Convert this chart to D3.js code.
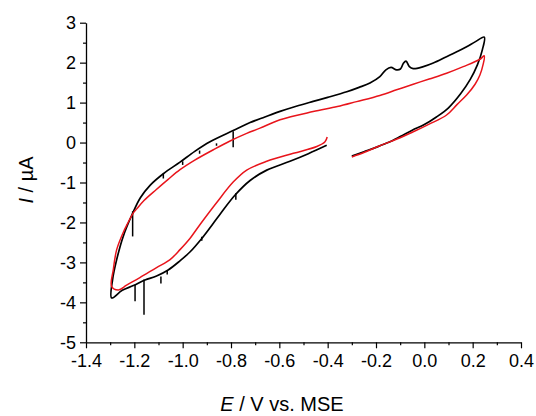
<!DOCTYPE html>
<html>
<head>
<meta charset="utf-8">
<script src="https://cdn.jsdelivr.net/npm/d3@7"></script>
<style>
  body { margin: 0; background: #fff; }
  svg { display: block; font-family: "Liberation Sans", Arial, sans-serif; }
</style>
</head>
<body>
<div id="chart"></div>
<script>
// scan order: -0.3 -> 0.25 -> -1.3 -> -0.4  (E / V, I / uA)
const blackCV = [
  [-0.30,-0.34],[-0.25,-0.23],[-0.20,-0.12],[-0.15,0.00],[-0.10,0.15],[-0.05,0.31],
  [0.00,0.45],[0.05,0.64],[0.10,0.87],[0.15,1.22],[0.19,1.58],[0.22,1.95],[0.24,2.32],[0.248,2.64],
  [0.21,2.52],[0.175,2.40],[0.13,2.26],[0.092,2.15],[0.037,1.99],[-0.004,1.90],[-0.046,1.85],
  [-0.062,1.90],[-0.076,2.04],[-0.087,1.98],[-0.099,1.84],[-0.115,1.82],[-0.138,1.88],[-0.159,1.82],
  [-0.184,1.65],[-0.225,1.49],[-0.27,1.38],[-0.321,1.27],[-0.40,1.13],[-0.46,1.03],[-0.53,0.91],
  [-0.597,0.78],[-0.66,0.64],[-0.721,0.50],[-0.791,0.30],[-0.887,0.02],[-0.95,-0.22],[-1.011,-0.49],
  [-1.08,-0.78],[-1.135,-1.07],[-1.175,-1.38],[-1.207,-1.77],[-1.246,-2.35],[-1.273,-2.93],
  [-1.29,-3.43],[-1.294,-3.89],
  [-1.25,-3.70],[-1.204,-3.58],[-1.156,-3.44],[-1.108,-3.34],[-1.06,-3.19],[-1.011,-2.96],
  [-0.97,-2.74],[-0.921,-2.40],[-0.846,-1.80],[-0.784,-1.32],[-0.721,-0.95],[-0.652,-0.69],
  [-0.556,-0.47],[-0.48,-0.28],[-0.404,-0.07]
]

const redCV = [
  [-0.30,-0.36],[-0.25,-0.25],[-0.184,-0.08],[-0.10,0.12],[-0.046,0.27],[0.02,0.46],[0.092,0.69],
  [0.135,0.95],[0.175,1.19],[0.21,1.46],[0.23,1.69],[0.243,1.95],[0.248,2.17],
  [0.230,2.085],[0.161,1.90],[0.092,1.735],[0.02,1.59],[-0.046,1.46],[-0.115,1.32],[-0.184,1.18],
  [-0.28,1.025],[-0.36,0.90],[-0.46,0.775],[-0.597,0.57],[-0.68,0.36],[-0.735,0.23],[-0.804,0.04],
  [-0.873,-0.18],[-0.95,-0.44],[-1.011,-0.68],[-1.06,-0.92],[-1.11,-1.18],[-1.16,-1.45],
  [-1.19,-1.66],[-1.204,-1.76],[-1.23,-2.05],[-1.246,-2.25],[-1.273,-2.68],[-1.287,-3.18],[-1.294,-3.60],
  [-1.266,-3.69],[-1.232,-3.57],[-1.177,-3.38],[-1.108,-3.13],[-1.052,-2.93],[-1.011,-2.68],
  [-0.97,-2.40],[-0.928,-2.05],[-0.859,-1.50],[-0.791,-0.99],[-0.735,-0.69],[-0.652,-0.47],
  [-0.542,-0.27],[-0.445,-0.10],[-0.411,0.02],[-0.402,0.14]
]

// noise spikes on the black trace: [E, from, to]
const blackSpikes = [
  [-0.791,0.28,-0.12],[-1.207,-1.72,-2.35],
  [-1.08,-0.78,-0.90],[-1.00,-0.47,-0.56],[-0.93,-0.20,-0.28],[-0.86,-0.02,-0.08],
  [-1.197,-3.56,-3.97],[-1.16,-3.43,-4.31],[-1.09,-3.35,-3.53],[-1.064,-3.21,-3.30],
  [-0.921,-2.36,-2.46],[-0.78,-1.27,-1.43]
]

const xTicks = [-1.4,-1.2,-1.0,-0.8,-0.6,-0.4,-0.2,0.0,0.2,0.4]
const xMinor = d3.range(-1.3, 0.4, 0.2)
const yTicks = [-5,-4,-3,-2,-1,0,1,2,3]
const yMinor = d3.range(-4.5, 3, 1)

const width = 536, height = 416
const x = d3.scaleLinear().domain([-1.4, 0.4]).range([86, 521])
const y = d3.scaleLinear().domain([-5, 3]).range([342.3, 22.7])

const svg = d3.select("#chart").append("svg")
  .attr("width", width)
  .attr("height", height)

const hy = s => s.replace("\u2212", "-")

// axes
const gx = svg.append("g").attr("transform", `translate(0,${y(-5)})`)
gx.call(d3.axisBottom(x).tickValues(xTicks).tickSize(6).tickSizeOuter(0).tickPadding(6)
  .tickFormat(d => hy(d3.format(".1f")(d))))
gx.append("g").call(d3.axisBottom(x).tickValues(xMinor).tickSize(3).tickFormat(""))
  .select(".domain").remove()

const gy = svg.append("g").attr("transform", `translate(${x(-1.4)},0)`)
gy.call(d3.axisLeft(y).tickValues(yTicks).tickSize(6).tickSizeOuter(0).tickPadding(4)
  .tickFormat(d => hy(d3.format("d")(d))))
gy.append("g").call(d3.axisLeft(y).tickValues(yMinor).tickSize(3).tickFormat(""))
  .select(".domain").remove()

svg.selectAll(".domain").attr("stroke", "#000").attr("stroke-width", 1.3)
svg.selectAll(".tick line").attr("stroke", "#000").attr("stroke-width", 1.2)
svg.selectAll(".tick text").attr("font-size", 18).attr("fill", "#000")
  .attr("font-family", "Liberation Sans, Arial, sans-serif")

// curves
const line = d3.line().x(d => x(d[0])).y(d => y(d[1])).curve(d3.curveCatmullRom.alpha(0.5))

svg.append("path").datum(blackCV)
  .attr("d", line).attr("fill", "none")
  .attr("stroke", "#000").attr("stroke-width", 1.7)

svg.selectAll("line.spike").data(blackSpikes).enter()
  .append("line").attr("class", "spike")
  .attr("x1", d => x(d[0])).attr("x2", d => x(d[0]))
  .attr("y1", d => y(d[1])).attr("y2", d => y(d[2]))
  .attr("stroke", "#000").attr("stroke-width", 1.5)

svg.append("path").datum(redCV)
  .attr("d", line).attr("fill", "none")
  .attr("stroke", "#e8141b").attr("stroke-width", 1.5)

// titles
const xt = svg.append("text")
  .attr("x", 282).attr("y", 411)
  .attr("text-anchor", "middle").attr("font-size", 20)
xt.append("tspan").attr("font-style", "italic").text("E")
xt.append("tspan").text(" / V vs. MSE")

const yt = svg.append("text")
  .attr("transform", "translate(33,180) rotate(-90)")
  .attr("text-anchor", "middle").attr("font-size", 20)
yt.append("tspan").attr("font-style", "italic").text("I")
yt.append("tspan").text(" / \u00b5A")
</script>
</body>
</html>
